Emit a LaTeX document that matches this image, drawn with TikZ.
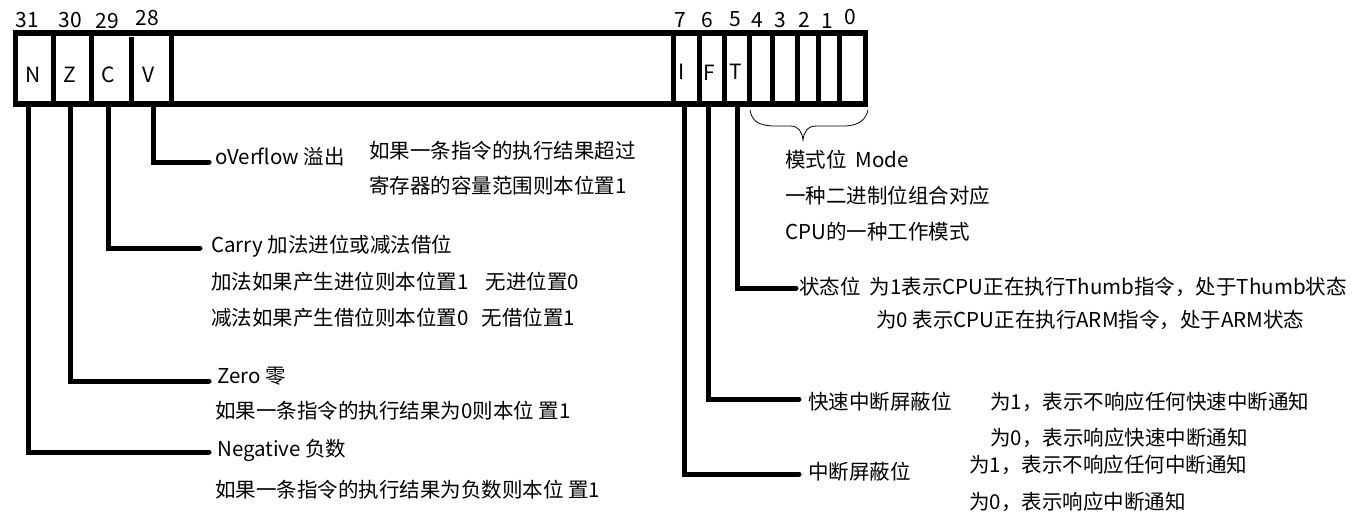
\documentclass[tikz,border=0pt]{standalone}
\usepackage{fontspec}
\setmainfont{Noto Sans CJK SC}
\begin{document}
\begin{tikzpicture}[x=1pt,y=-1pt,
  frame/.style={line width=5.5pt},
  divider/.style={line width=5pt},
  leader/.style={line width=5pt, line cap=round},
  bitnum/.style={font=\fontsize{21}{21}\selectfont, inner sep=0},
  flag/.style={font=\fontsize{21}{21}\selectfont, inner sep=0},
  txt/.style={font=\fontsize{20.5}{20.5}\selectfont, anchor=west, inner sep=0},
  bracepath/.style={line width=0.8pt}]
\useasboundingbox (0,0) rectangle (1372,516);
% register frame
\draw[frame] (15.5,33) rectangle (865.5,104);
\foreach \x in {53,91,171,673,699,724,749,772,797,818,839}
  \draw[divider] (\x,33) -- (\x,104);
\draw[divider] (131,37) -- (131,104);
% bit numbers
\node[bitnum] (b31) at (27,20) {31};
\node[bitnum] (b30) at (70,20) {30};
\node[bitnum] (b29) at (107,21) {29};
\node[bitnum] (b28) at (147,18) {28};
\node[bitnum] (b7) at (680,20) {7};
\node[bitnum] (b6) at (707,20) {6};
\node[bitnum] (b5) at (735,19) {5};
\node[bitnum] (b4) at (757,20) {4};
\node[bitnum] (b3) at (780,20) {3};
\node[bitnum] (b2) at (804,20) {2};
\node[bitnum] (b1) at (827,21) {1};
\node[bitnum] (b0) at (850,17) {0};
% flags
\node[flag] (fN) at (33,75) {N};
\node[flag] (fZ) at (70,75) {Z};
\node[flag] (fC) at (108,75) {C};
\node[flag] (fV) at (149,75) {V};
\node[flag] (fI) at (682,72) {I};
\node[flag] (fF) at (709,73) {F};
\node[flag] (fT) at (736,72) {T};
% leader anchor points
\coordinate (nTop) at (28,107);  \coordinate (nEnd) at (209,452);
\coordinate (zTop) at (70,107);  \coordinate (zEnd) at (209,381);
\coordinate (cTop) at (108,107); \coordinate (cEnd) at (200,248);
\coordinate (vTop) at (153,107); \coordinate (vEnd) at (209,162);
\coordinate (tTop) at (737,107); \coordinate (tEnd) at (796,288);
\coordinate (fTop) at (708,107); \coordinate (fEnd) at (799,399);
\coordinate (iTop) at (684,107); \coordinate (iEnd) at (799,474);
\draw[leader] (nTop) |- (nEnd);
\draw[leader] (zTop) |- (zEnd);
\draw[leader] (cTop) |- (cEnd);
\draw[leader] (vTop) |- (vEnd);
\draw[leader] (tTop) |- (tEnd);
\draw[leader] (fTop) |- (fEnd);
\draw[leader] (iTop) |- (iEnd);
% mode brace
\draw[bracepath] (750,110) .. controls (752,121) and (758,125) .. (772,126) -- (790,126)
  .. controls (799,126) and (802,132) .. (803,140)
  .. controls (804,132) and (807,126) .. (817,126) -- (846,126)
  .. controls (860,125) and (866,119) .. (868,110);
% texts left
\node[txt] (ovf) at (215,157) {oVerflow 溢出};
\node[txt] (ovf1) at (369,151) {如果一条指令的执行结果超过};
\node[txt] (ovf2) at (369,186) {寄存器的容量范围则本位置1};
\node[txt] (carry) at (211,246) {Carry 加法进位或减法借位};
\node[txt] (carry1) at (211,282) {加法如果产生进位则本位置1\hspace{17pt}无进位置0};
\node[txt] (carry2) at (211,318) {减法如果产生借位则本位置0\hspace{13pt}无借位置1};
\node[txt] (zero) at (217,376) {Zero 零};
\node[txt] (zero1) at (215,411) {如果一条指令的执行结果为0则本位 置1};
\node[txt] (neg) at (217,450) {Negative 负数};
\node[txt] (neg1) at (215,490) {如果一条指令的执行结果为负数则本位 置1};
% texts right
\node[txt] (mode) at (785,160) {模式位\ \ Mode};
\node[txt] (mode1) at (785,196) {一种二进制位组合对应};
\node[txt] (mode2) at (785,232) {CPU的一种工作模式};
\node[txt] (state) at (799,287) {状态位\ \ 为1表示CPU正在执行Thumb指令，处于Thumb状态};
\node[txt] (state2) at (876,320) {为0 表示CPU正在执行ARM指令，处于ARM状态};
\node[txt] (fiq) at (808,402) {快速中断屏蔽位};
\node[txt] (fiq1) at (990,402) {为1，表示不响应任何快速中断通知};
\node[txt] (fiq2) at (990,438) {为0，表示响应快速中断通知};
\node[txt] (irq) at (808,472) {中断屏蔽位};
\node[txt] (irq1) at (969,465) {为1，表示不响应任何中断通知};
\node[txt] (irq2) at (969,502) {为0，表示响应中断通知};
\end{tikzpicture}
\end{document}
